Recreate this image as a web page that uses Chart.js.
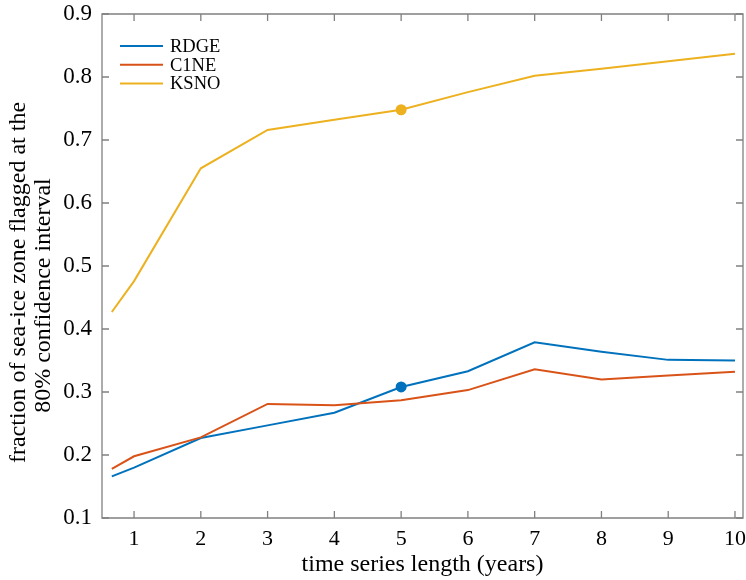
<!DOCTYPE html>
<html>
<head>
<meta charset="utf-8">
<script src="https://cdn.jsdelivr.net/npm/chart.js@4.4.1/dist/chart.umd.min.js"></script>
<style>
html,body{margin:0;padding:0;background:#fff;}
#wrap{width:746px;height:580px;position:relative;}
</style>
</head>
<body>
<div id="wrap"><canvas id="c" width="746" height="580"></canvas></div>
<script>
const years = [0.667, 1, 2, 3, 4, 5, 6, 7, 8, 9, 10];
const RDGE = [0.166, 0.180, 0.227, 0.247, 0.267, 0.308, 0.333, 0.379, 0.364, 0.351, 0.350];
const C1NE = [0.178, 0.198, 0.228, 0.281, 0.279, 0.287, 0.303, 0.336, 0.320, 0.326, 0.332];
const KSNO = [0.427, 0.476, 0.655, 0.716, 0.732, 0.748, 0.776, 0.802, 0.813, 0.825, 0.837];
const markedYear = 5;
const xTicks = [1, 2, 3, 4, 5, 6, 7, 8, 9, 10];
const yTicks = [0.1, 0.2, 0.3, 0.4, 0.5, 0.6, 0.7, 0.8, 0.9];
const seriesNames = ['RDGE', 'C1NE', 'KSNO'];
const xTitle = 'time series length (years)';
const yTitle = ['fraction of sea-ice zone flagged at the', '80% confidence interval'];

const FONT = "'Liberation Serif', 'Times New Roman', serif";
const AXIS = '#808080';

function pts(vals){ return years.map((x,i)=>({x:x,y:vals[i]})); }
function radii(r){ return years.map(x => x === markedYear ? r : 0); }

const boxPlugin = {
  id: 'boxTicks',
  afterDatasetsDraw(chart){
    const {ctx, chartArea:a, scales:{x, y}} = chart;
    ctx.save();
    ctx.strokeStyle = AXIS;
    ctx.lineWidth = 1.3;
    ctx.beginPath();
    ctx.rect(a.left, a.top, a.right - a.left, a.bottom - a.top);
    ctx.stroke();
    const L = 7;
    ctx.beginPath();
    xTicks.forEach(v => {
      const px = x.getPixelForValue(v);
      ctx.moveTo(px, a.bottom); ctx.lineTo(px, a.bottom - L);
      ctx.moveTo(px, a.top); ctx.lineTo(px, a.top + L);
    });
    yTicks.forEach(v => {
      const py = y.getPixelForValue(v);
      ctx.moveTo(a.left, py); ctx.lineTo(a.left + L, py);
      ctx.moveTo(a.right, py); ctx.lineTo(a.right - L, py);
    });
    ctx.stroke();
    // legend
    const lx = a.left + 18, ly = a.top + 32, dy = 18.8;
    ctx.font = "18.5px " + FONT;
    ctx.textBaseline = 'middle';
    ctx.textAlign = 'left';
    chart.data.datasets.forEach((ds, i) => {
      const yy = ly + i * dy;
      ctx.strokeStyle = ds.borderColor;
      ctx.lineWidth = 2;
      ctx.beginPath(); ctx.moveTo(lx, yy); ctx.lineTo(lx + 43, yy); ctx.stroke();
      ctx.fillStyle = '#000';
      ctx.fillText(ds.label, lx + 50, yy + 1);
    });
    // y axis title (two lines, rotated)
    ctx.font = "24px " + FONT;
    ctx.fillStyle = '#000';
    ctx.textAlign = 'center';
    ctx.textBaseline = 'alphabetic';
    const mid = (a.top + a.bottom) / 2;
    const pos = [[25, mid + 16.5], [50, mid + 29.5]];
    yTitle.forEach((t, i) => {
      ctx.save();
      ctx.translate(pos[i][0], pos[i][1]);
      ctx.rotate(-Math.PI / 2);
      ctx.fillText(t, 0, 0);
      ctx.restore();
    });
    ctx.restore();
  }
};

new Chart(document.getElementById('c'), {
  type: 'line',
  data: {
    datasets: [
      {label: seriesNames[0], data: pts(RDGE), borderColor: '#0072BD', backgroundColor: '#0072BD', pointRadius: radii(4.5), pointHoverRadius: 0, borderWidth: 2, order: 3},
      {label: seriesNames[1], data: pts(C1NE), borderColor: '#D95319', backgroundColor: '#D95319', pointRadius: 0, borderWidth: 2, order: 2},
      {label: seriesNames[2], data: pts(KSNO), borderColor: '#EDB120', backgroundColor: '#EDB120', pointRadius: radii(4.5), pointHoverRadius: 0, borderWidth: 2, order: 1}
    ]
  },
  options: {
    responsive: false,
    animation: false,
    devicePixelRatio: 1,
    layout: {padding: {top: 14, right: 3, left: 0, bottom: 0}},
    plugins: {legend: {display: false}, tooltip: {enabled: false}},
    events: [],
    scales: {
      x: {
        type: 'linear',
        min: 0.52, max: 10.12,
        afterBuildTicks(s){ s.ticks = xTicks.map(v => ({value: v})); },
        afterFit(s){ s.height = 62; s.paddingLeft = 0; s.paddingRight = 0; },
        grid: {display: false, drawTicks: false},
        border: {display: false},
        ticks: {font: {family: FONT, size: 22}, color: '#000', padding: 8, maxRotation: 0, autoSkip: false},
        title: {display: true, text: xTitle, font: {family: FONT, size: 24, lineHeight: 1.2}, color: '#000', padding: {top: 0, bottom: 1}}
      },
      y: {
        type: 'linear',
        min: 0.1, max: 0.9,
        afterBuildTicks(s){ s.ticks = yTicks.map(v => ({value: v})); },
        afterFit(s){ s.width = 102; s.paddingTop = 0; s.paddingBottom = 0; },
        grid: {display: false, drawTicks: false},
        border: {display: false},
        ticks: {font: {family: FONT, size: 23}, color: '#000', padding: 10, callback: v => v.toFixed(1)},
        title: {display: false}
      }
    }
  },
  plugins: [boxPlugin]
});
</script>
</body>
</html>
